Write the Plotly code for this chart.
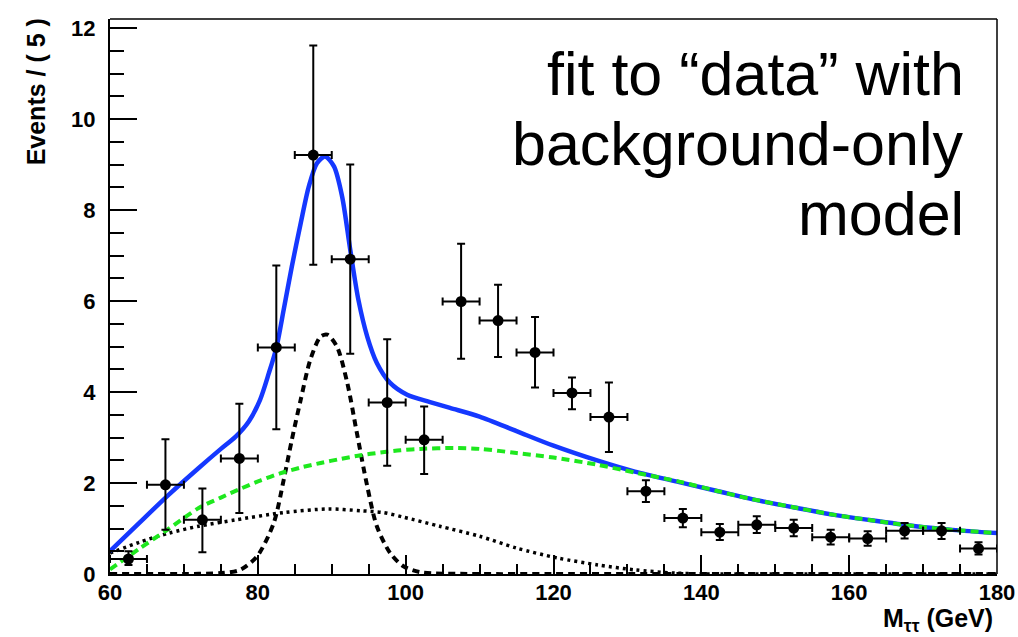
import plotly.graph_objects as go

# ---- data ----
bin_x = [62.5, 67.5, 72.5, 77.5, 82.5, 87.5, 92.5, 97.5, 102.5, 107.5, 112.5, 117.5,
         122.5, 127.5, 132.5, 137.5, 142.5, 147.5, 152.5, 157.5, 162.5, 167.5, 172.5, 177.5]
events = [0.33, 1.96, 1.19, 2.54, 4.98, 9.21, 6.92, 3.77, 2.95, 5.99, 5.57, 4.87,
          3.98, 3.45, 1.82, 1.23, 0.92, 1.08, 1.01, 0.81, 0.78, 0.95, 0.95, 0.56]
err_up = [0.17, 1.00, 0.69, 1.20, 1.80, 2.41, 2.08, 1.39, 0.73, 1.27, 0.79, 0.78,
          0.34, 0.76, 0.24, 0.20, 0.18, 0.19, 0.18, 0.16, 0.16, 0.17, 0.17, 0.14]
err_dn = [0.13, 0.99, 0.71, 1.20, 1.80, 2.41, 2.08, 1.39, 0.75, 1.26, 0.80, 0.77,
          0.36, 0.77, 0.24, 0.20, 0.17, 0.18, 0.18, 0.16, 0.16, 0.17, 0.18, 0.13]
bin_half = [2.5] * len(bin_x)

# total fit (blue)
tot_x = [60, 64, 68, 72, 75, 77, 78.8, 80.3, 81.5, 82.5, 83.5, 84.6, 85.8, 86.9, 88.0, 89.1,
         90.3, 91.4, 92.5, 93.6, 94.8, 96.1, 97.9, 100.2, 103.3, 106, 110, 115, 120, 126,
         131, 137, 142, 147, 153, 158, 163, 169, 174, 180]
tot_y = [0.50, 1.13, 1.75, 2.33, 2.75, 3.02, 3.36, 3.83, 4.42, 4.97, 5.81, 6.76, 7.71, 8.52, 9.03, 9.18,
         8.96, 8.30, 7.13, 6.03, 5.22, 4.64, 4.20, 3.94, 3.78, 3.65, 3.46, 3.14, 2.82, 2.49,
         2.25, 2.02, 1.83, 1.64, 1.45, 1.30, 1.18, 1.05, 0.97, 0.90]

# background component (green dashed)
bkg_x = [60, 64, 68, 72, 75, 77.6, 80.4, 83, 85.8, 88.5, 91.2, 93.9, 96.6, 99.3, 102, 106.5,
         110, 115, 120, 126, 131, 137, 142, 147, 153, 158, 163, 169, 174, 180]
bkg_y = [0.10, 0.56, 1.00, 1.45, 1.68, 1.87, 2.06, 2.21, 2.34, 2.44, 2.53, 2.61, 2.67, 2.72, 2.75, 2.77,
         2.75, 2.66, 2.56, 2.40, 2.23, 2.03, 1.83, 1.64, 1.45, 1.30, 1.18, 1.05, 0.97, 0.90]

# narrow peak component (black dashed)
sig_x = [60, 70, 75, 77.6, 79.9, 82.15, 83.5, 84.6, 85.8, 87.1, 88.5, 89.4, 90.7, 92.1, 93.4,
         94.8, 96.1, 97.9, 99.7, 102, 110, 120, 140, 160, 180]
sig_y = [0, 0, 0.02, 0.09, 0.39, 1.12, 2.07, 2.95, 3.83, 4.71, 5.22, 5.26, 5.00, 4.20, 3.10,
         1.93, 1.05, 0.46, 0.17, 0.04, 0, 0, 0, 0, 0]

# broad component (black dotted)
brd_x = [60, 64, 68, 72, 77, 83.5, 89.5, 94, 97, 99.7, 104.6, 110, 115, 120.6, 126, 131, 136.5, 142, 150, 180]
brd_y = [0.46, 0.70, 0.90, 1.05, 1.19, 1.35, 1.43, 1.39, 1.35, 1.25, 1.05, 0.83, 0.57, 0.35, 0.20, 0.09, 0.02, 0, 0, 0]

x_ticks = [60, 80, 100, 120, 140, 160, 180]
y_ticks = [0, 2, 4, 6, 8, 10, 12]

label_lines = ["fit to \u201cdata\u201d with", "background-only", "model"]

FONT = "Liberation Sans, Arial, Helvetica, sans-serif"

fig = go.Figure()

fig.add_trace(go.Scatter(x=brd_x, y=brd_y, mode="lines", line=dict(color="black", width=3.5, dash="3px,4px", shape="spline", smoothing=0.8), hoverinfo="skip"))
fig.add_trace(go.Scatter(x=sig_x, y=sig_y, mode="lines", line=dict(color="black", width=4, dash="7px,5px", shape="spline", smoothing=0.8), hoverinfo="skip"))
fig.add_trace(go.Scatter(x=tot_x, y=tot_y, mode="lines", line=dict(color="#1538ff", width=4.5, shape="spline", smoothing=0.8), hoverinfo="skip"))
fig.add_trace(go.Scatter(x=bkg_x, y=bkg_y, mode="lines", line=dict(color="#1ee81e", width=4, dash="8px,5px", shape="spline", smoothing=0.8), hoverinfo="skip"))

fig.add_trace(go.Scatter(
    x=bin_x, y=events, mode="markers",
    marker=dict(symbol="circle", size=11, color="black"),
    error_y=dict(type="data", symmetric=False, array=err_up, arrayminus=err_dn, color="black", thickness=2, width=4),
    error_x=dict(type="data", array=bin_half, color="black", thickness=2, width=4),
))

fig.update_layout(
    template="none",
    width=1018, height=637,
    margin=dict(l=110, r=21, t=19, b=63, autoexpand=False),
    paper_bgcolor="white", plot_bgcolor="white",
    showlegend=False,
    font=dict(family=FONT, color="black"),
)

fig.update_xaxes(
    range=[60, 180], tickvals=x_ticks, ticktext=[str(v) for v in x_ticks],
    ticks="inside", ticklen=19, tickwidth=2, tickcolor="black",
    minor=dict(dtick=5, tick0=60, ticks="inside", ticklen=10, tickwidth=2, tickcolor="black", showgrid=False),
    showline=True, linewidth=2, linecolor="black", showgrid=False, zeroline=False,
    tickfont=dict(family=FONT, size=22, color="black", weight="bold"),
    ticklabelstandoff=-2, automargin=False,
)
fig.update_yaxes(
    range=[0, 12.2], tickvals=y_ticks, ticktext=[str(v) for v in y_ticks],
    ticks="inside", ticklen=27, tickwidth=2, tickcolor="black",
    minor=dict(dtick=0.5, tick0=0, ticks="inside", ticklen=14, tickwidth=2, tickcolor="black", showgrid=False),
    showline=True, linewidth=2, linecolor="black", showgrid=False, zeroline=False,
    tickfont=dict(family=FONT, size=22, color="black", weight="bold"),
    ticklabelstandoff=8, automargin=False,
)

# frame top/right
fig.add_shape(type="line", xref="paper", yref="paper", x0=0, x1=1, y0=1, y1=1, line=dict(color="black", width=1.5))
fig.add_shape(type="line", xref="paper", yref="paper", x0=1, x1=1, y0=0, y1=1, line=dict(color="black", width=1.5))

# axis titles
fig.add_annotation(text="M<sub>\u03c4\u03c4</sub> (GeV)", xref="paper", yref="paper", x=0.998, y=-0.083,
                   xanchor="right", yanchor="middle", showarrow=False,
                   font=dict(family=FONT, size=25, color="black", weight="bold"))
fig.add_annotation(text="Events / ( 5 )", xref="paper", yref="paper", x=-0.083, y=0.8685,
                   xanchor="center", yanchor="middle", textangle=-90, showarrow=False,
                   font=dict(family=FONT, size=25, color="black", weight="bold"))

# label text
for line, yy in zip(label_lines, [0.901, 0.775, 0.649]):
    fig.add_annotation(text=line, xref="paper", yref="paper", x=0.965, y=yy,
                       xanchor="right", yanchor="middle", showarrow=False,
                       font=dict(family=FONT, size=61, color="black"))

fig.write_html("out.html", config={"displayModeBar": False},
               post_script="document.body.style.margin='0px';")
